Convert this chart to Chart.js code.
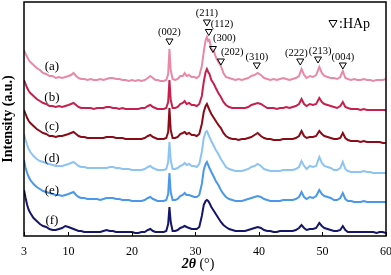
<!DOCTYPE html>
<html>
<head>
<meta charset="utf-8">
<script src="https://cdn.jsdelivr.net/npm/chart.js@4"></script>
<style>
html,body{margin:0;padding:0;background:#fff;}
canvas{display:block;}
</style>
</head>
<body>
<canvas id="c" width="391" height="275"></canvas>
<script>
// 2θ positions (degrees)
const twoTheta = [3,3.25,3.5,3.75,4,4.5,5,5.5,6,6.5,
7,7.5,8,8.5,9,9.5,10,10.4,10.8,11.2,
11.6,12,12.5,13,13.5,14,14.5,15,15.5,16,
16.5,17,17.5,18,18.5,19,19.5,20,20.5,21,
21.5,22,22.5,22.9,23.3,23.7,24,24.5,25,25.4,
25.7,25.9,26.1,26.4,26.8,27.2,27.6,28,28.3,28.6,
29,29.4,29.8,30.2,30.6,31,31.3,31.6,31.8,32.0,
32.2,32.5,32.9,33.2,33.6,34.0,34.4,34.8,35.3,35.8,
36.3,36.8,37.3,37.8,38.3,38.8,39.3,39.8,40.3,40.8,
41.3,41.8,42.3,42.8,43.3,43.8,44.3,44.8,45.3,45.8,
46.3,46.7,47.1,47.5,48.0,48.5,49.0,49.5,49.9,50.3,
50.8,51.3,51.8,52.3,52.8,53.2,53.6,54.0,54.5,55,
55.5,56,56.5,57,57.5,58,58.5,59,59.5,60];

// Intensities (a.u., stacked with offsets as in the figure)
const seriesA = [186,182,179,176,174,171,168,166,163,162,
160,160,158,159,158,159,160,161,163,160,
158,157,157,156,157,156,156,157,156,157,
158,158,157,157,156,156,155,156,155,156,
155,156,158,160,158,156,156,155,155,156,
162,187,166,157,156,157,160,160,163,160,
161,159,159,158,160,170,184,196,199,195,
196,187,185,179,174,170,163,159,158,157,
156,157,156,157,158,160,161,163,161,158,
157,156,157,156,157,158,157,156,157,158,
160,167,161,158,160,159,161,169,163,160,
159,158,158,157,159,165,158,157,156,157,
156,156,157,156,156,155,156,156,156,157];
const seriesB = [156,152,148,145,143,140,137,135,133,132,
130,130,129,130,129,130,131,132,133,131,
129,128,128,128,128,127,128,128,128,129,
129,128,128,127,128,127,127,127,127,127,
128,128,130,131,129,128,127,127,127,128,
134,156,136,128,128,129,132,133,135,132,
133,131,131,130,132,140,154,164,167,164,
162,156,152,148,143,139,134,131,129,128,
128,128,128,128,129,131,132,133,132,130,
128,128,128,127,128,128,129,128,129,130,
132,137,132,130,132,131,132,138,134,132,
131,130,129,128,130,134,129,128,127,127,
127,126,127,126,126,126,126,126,126,126];
const seriesC = [126,122,118,115,113,110,107,105,103,102,
100,100,99,100,100,101,102,103,104,102,
100,99,99,98,98,98,98,98,98,99,
99,99,98,98,98,97,97,97,97,97,
97,98,100,101,99,98,97,97,97,98,
104,128,106,98,98,99,102,103,104,102,
103,101,101,100,102,112,124,130,132,129,
126,122,118,115,111,108,103,100,98,97,
97,96,97,97,98,99,101,103,100,98,
97,97,96,96,96,97,97,97,97,98,
100,105,100,98,99,99,100,105,102,100,
99,98,97,97,98,103,98,96,95,95,
95,94,95,94,94,94,94,94,93,93];
const seriesD = [102,96,91,87,84,80,77,75,74,73,
72,71,70,70,70,71,72,73,74,72,
70,69,69,68,68,68,68,68,68,68,
69,69,68,68,67,67,67,66,66,66,
66,67,69,70,68,67,66,66,66,67,
74,94,76,67,67,68,70,71,73,71,
72,70,70,69,72,84,98,104,105,102,
99,95,90,86,82,77,73,69,67,66,
65,65,65,66,67,69,70,72,70,67,
66,65,65,65,65,66,66,66,66,67,
69,75,70,67,70,69,70,79,73,70,
69,68,66,66,68,74,67,65,64,64,
64,64,65,64,64,63,63,63,63,63];
const seriesE = [76,68,63,59,56,52,49,47,45,44,
43,42,41,41,40,41,42,43,44,41,
39,38,38,37,37,37,37,36,37,38,
38,38,37,37,36,36,36,35,35,35,
35,36,38,39,37,36,35,35,35,36,
42,63,44,36,36,37,40,41,43,41,
41,40,39,39,41,52,66,72,74,71,
68,64,59,55,51,46,42,39,37,36,
35,35,35,36,37,38,39,40,39,37,
36,35,35,35,35,36,36,36,36,37,
39,44,39,37,39,38,40,46,42,40,
39,38,36,36,38,43,37,35,35,34,
34,34,35,34,34,34,34,34,34,34];
const seriesF = [46,38,31,26,23,18,15,12,10,9,
7,6,6,7,8,10,9,8,7,6,
5,5,4,4,4,4,4,4,5,6,
5,5,4,4,4,4,4,4,3,3,
4,4,6,7,5,4,4,4,4,5,
12,29,14,5,5,6,8,9,10,9,
8,7,7,7,9,20,31,35,36,35,
33,29,25,22,18,14,11,9,7,6,
5,5,5,5,6,7,8,9,8,6,
5,5,4,4,5,5,5,5,5,6,
8,11,8,6,7,7,8,13,10,8,
7,6,5,5,6,10,6,4,4,4,
4,4,4,4,4,4,3,4,4,3];

const sampleLabels = ['(a)','(b)','(c)','(d)','(e)','(f)'];
const xTickValues = [3,10,20,30,40,50,60];
const peakLabels = ['(002)','(211)','(112)','(300)','(202)','(310)','(222)','(213)','(004)'];
const peakPositions = [25.9,31.8,32.1,32.75,34.0,39.66,46.5,49.3,53.2];

// styling / placement (not data)
const colors = ['#e88aa6','#c8204c','#8a0c18','#8ec4f4','#4a98ea','#15166a'];
const labelPlace = [{x:7.4,y:169},{x:7.4,y:138},{x:7.4,y:109},{x:7.4,y:77},{x:7.4,y:45},{x:7.4,y:15}];
const peakPlace = [
 {tri:194, txt:204, dx:0, align:'center'},
 {tri:213, txt:223, dx:0, align:'center'},
 {tri:203.5, txt:212, dx:2, align:'left'},
 {tri:186.5, txt:198, dx:0, align:'left'},
 {tri:174, txt:184, dx:0, align:'left'},
 {tri:170, txt:179, dx:0, align:'center'},
 {tri:174, txt:183, dx:-4, align:'center'},
 {tri:176, txt:185, dx:2, align:'center'},
 {tri:170, txt:179, dx:0, align:'center'}
];
const SERIF = '"Liberation Serif","DejaVu Serif",serif';

const allSeries = [seriesA,seriesB,seriesC,seriesD,seriesE,seriesF];
const datasets = allSeries.map((s,k)=>({
  label: sampleLabels[k],
  data: twoTheta.map((x,i)=>({x:x,y:s[i]})),
  borderColor: colors[k],
  borderWidth: 2,
  pointRadius: 0,
  tension: 0,
  fill: false
}));

function tri(ctx, cx, cy, w, h){
  ctx.beginPath();
  ctx.moveTo(cx - w/2, cy - h/2);
  ctx.lineTo(cx + w/2, cy - h/2);
  ctx.lineTo(cx, cy + h/2);
  ctx.closePath();
  ctx.stroke();
}

const decor = {
  id:'decor',
  afterDatasetsDraw(chart){
    const {ctx, chartArea:a, scales:{x,y}} = chart;
    ctx.save();
    // frame
    ctx.strokeStyle = '#000';
    ctx.lineWidth = 1.5;
    ctx.strokeRect(a.left, a.top, a.right - a.left, a.bottom - a.top);
    // inward ticks
    ctx.lineWidth = 1;
    xTickValues.forEach(v=>{
      const px = Math.round(x.getPixelForValue(v)) + 0.5;
      ctx.beginPath(); ctx.moveTo(px, a.bottom); ctx.lineTo(px, a.bottom - 4); ctx.stroke();
    });
    // sample labels
    ctx.fillStyle = '#000';
    ctx.font = '13px ' + SERIF;
    ctx.textAlign = 'center'; ctx.textBaseline = 'middle';
    sampleLabels.forEach((t,k)=>{
      ctx.fillText(t, x.getPixelForValue(labelPlace[k].x), y.getPixelForValue(labelPlace[k].y));
    });
    // peak labels
    ctx.font = '10.5px ' + SERIF;
    ctx.lineWidth = 1;
    peakLabels.forEach((t,k)=>{
      const p = peakPlace[k];
      const px = x.getPixelForValue(peakPositions[k]);
      tri(ctx, px, y.getPixelForValue(p.tri), 7, 6);
      ctx.textAlign = p.align;
      ctx.fillText(t, px + p.dx, y.getPixelForValue(p.txt));
    });
    // legend
    tri(ctx, 333, 24, 8, 7);
    ctx.font = '14px ' + SERIF;
    ctx.textAlign = 'left';
    ctx.fillText(':HAp', 339, 24);
    // y title
    ctx.save();
    ctx.translate(8, (a.top + a.bottom)/2);
    ctx.rotate(-Math.PI/2);
    ctx.font = 'bold 14px ' + SERIF;
    ctx.textAlign = 'center';
    ctx.fillText('Intensity (a.u.)', 0, 0);
    ctx.restore();
    // x title
    ctx.textAlign = 'left';
    ctx.font = 'italic bold 14px ' + SERIF;
    const t1 = '2θ';
    const w1 = ctx.measureText(t1).width;
    ctx.font = '14px ' + SERIF;
    const t2 = ' (°)';
    const w2 = ctx.measureText(t2).width;
    const sx = 198 - (w1 + w2)/2;
    ctx.font = 'italic bold 14px ' + SERIF;
    ctx.fillText(t1, sx, 264);
    ctx.font = '14px ' + SERIF;
    ctx.fillText(t2, sx + w1, 264);
    ctx.restore();
  }
};

new Chart(document.getElementById('c'), {
  type:'line',
  data:{datasets},
  options:{
    responsive:false,
    animation:false,
    devicePixelRatio:1,
    layout:{padding:{left:24, right:0, top:2, bottom:6.6}},
    plugins:{legend:{display:false}, tooltip:{enabled:false}},
    scales:{
      x:{
        type:'linear', min:3, max:60,
        afterBuildTicks(scale){ scale.ticks = xTickValues.map(v=>({value:v})); },
        afterFit(scale){ scale.paddingLeft = 0; scale.paddingRight = 5; },
        grid:{display:false, drawTicks:false},
        border:{display:false},
        ticks:{padding:9, color:'#000', font:{family:SERIF, size:12}, maxRotation:0, autoSkip:false}
      },
      y:{
        type:'linear', min:0, max:234, display:false
      }
    }
  },
  plugins:[decor]
});
</script>
</body>
</html>
